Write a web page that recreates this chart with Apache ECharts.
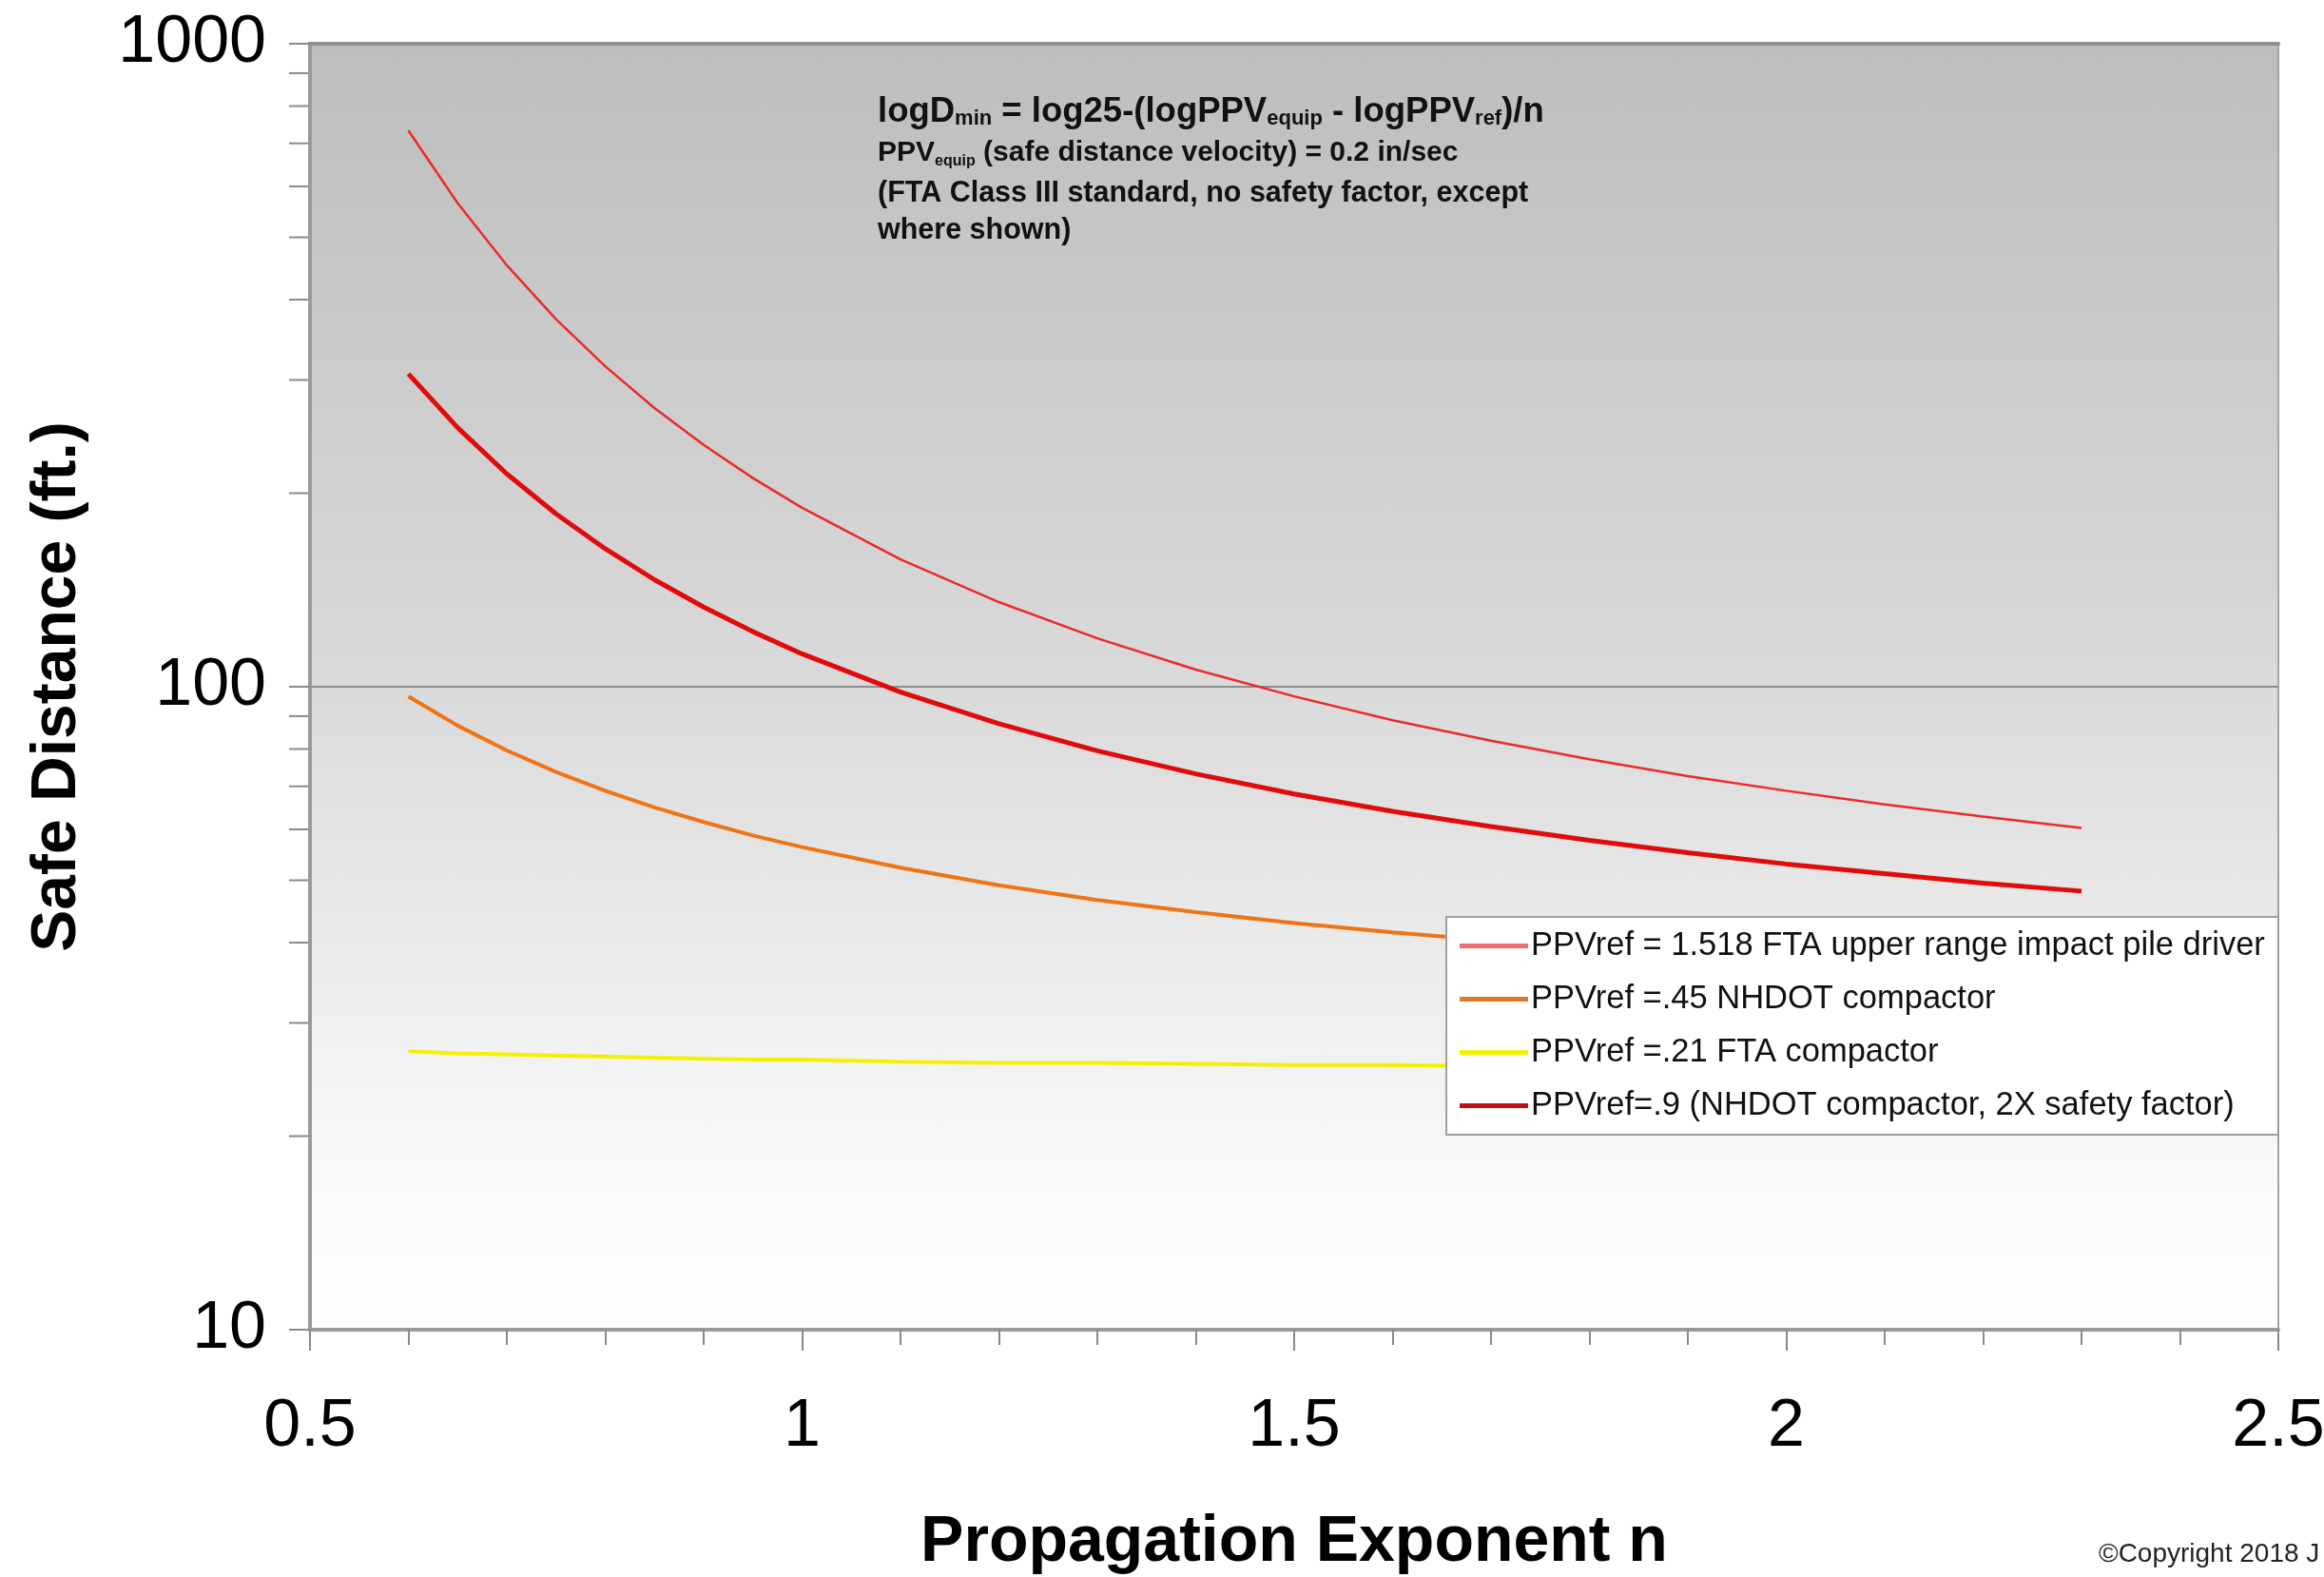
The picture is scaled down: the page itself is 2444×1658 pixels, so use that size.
<!DOCTYPE html>
<html>
<head>
<meta charset="utf-8">
<title>Safe Distance vs. Propagation Exponent</title>
<script src="https://cdn.jsdelivr.net/npm/echarts@6/dist/echarts.min.js"></script>
<style>
  html, body { margin: 0; padding: 0; background: #ffffff; }
  #chart { width: 2444px; height: 1658px; }
</style>
</head>
<body>
<div id="chart"></div>
<script>
// Propagation exponent n (x values shared by every curve)
const nValues = [0.6, 0.65, 0.7, 0.75, 0.8, 0.85, 0.9, 0.95, 1.0, 1.1, 1.2, 1.3, 1.4, 1.5, 1.6, 1.7, 1.8, 1.9, 2.0, 2.1, 2.2, 2.3];

// Safe distance (ft.) for each reference PPV
const pileDriver1518 = [732.8, 565.1, 452.3, 372.9, 315.0, 271.3, 237.7, 211.1, 189.8, 157.8, 135.4, 118.9, 106.3, 96.6, 88.7, 82.4, 77.1, 72.6, 68.9, 65.6, 62.8, 60.3];
const nhdotCompactor45 = [96.6, 87.0, 79.6, 73.7, 68.9, 64.9, 61.6, 58.7, 56.3, 52.3, 49.1, 46.6, 44.6, 42.9, 41.5, 40.3, 39.2, 38.3, 37.5, 36.8, 36.1, 35.6];
const ftaCompactor21 = [27.1, 26.9, 26.8, 26.7, 26.6, 26.5, 26.4, 26.3, 26.3, 26.1, 26.0, 26.0, 25.9, 25.8, 25.8, 25.7, 25.7, 25.7, 25.6, 25.6, 25.6, 25.5];
const nhdotSafety9 = [306.6, 252.9, 214.3, 185.7, 163.9, 146.7, 133.0, 121.8, 112.5, 98.1, 87.6, 79.5, 73.2, 68.1, 64.0, 60.6, 57.7, 55.2, 53.0, 51.2, 49.5, 48.1];

const seriesNames = [
  'PPVref = 1.518 FTA upper range impact pile driver',
  'PPVref =.45 NHDOT compactor',
  'PPVref =.21 FTA compactor',
  'PPVref=.9 (NHDOT compactor, 2X safety factor)'
];

// Logarithmic minor tick positions on the distance axis
const yMinorTicks = [20, 30, 40, 50, 60, 70, 80, 90, 200, 300, 400, 500, 600, 700, 800, 900];

const FONT = 'Liberation Sans, Arial, Helvetica, sans-serif';

function pairs(ys) {
  return nValues.map((n, i) => [n, ys[i]]);
}

const chart = echarts.init(document.getElementById('chart'), null, { renderer: 'canvas' });

const option = {
  animation: false,
  backgroundColor: '#ffffff',
  textStyle: { fontFamily: FONT },
  grid: {
    left: 326, right: 48, top: 46, bottom: 260,
    outerBoundsMode: 'none',
    containLabel: false,
    show: true,
    borderColor: '#a4a4a4',
    borderWidth: 2,
    backgroundColor: new echarts.graphic.LinearGradient(0, 0, 0, 1, [
      { offset: 0, color: '#bdbdbd' },
      { offset: 0.5, color: '#dadada' },
      { offset: 0.9, color: '#fbfbfb' },
      { offset: 1, color: '#ffffff' }
    ])
  },
  xAxis: [{
    type: 'value',
    min: 0.5, max: 2.5, interval: 0.5,
    name: 'Propagation Exponent n',
    nameLocation: 'middle',
    nameGap: 190,
    nameTextStyle: { fontSize: 68, fontWeight: 'bold', color: '#000', fontFamily: FONT },
    axisLine: { show: true, onZero: false, lineStyle: { color: '#9a9a9a', width: 4 } },
    axisTick: { show: true, length: 22, lineStyle: { color: '#8a8a8a', width: 2 } },
    minorTick: { show: true, splitNumber: 5, length: 16, lineStyle: { color: '#8a8a8a', width: 2 } },
    axisLabel: { fontSize: 70, color: '#000', margin: 68, fontFamily: FONT },
    splitLine: { show: false }
  }, {
    type: 'value',
    position: 'top',
    min: 0.5, max: 2.5,
    axisLine: { show: true, onZero: false, lineStyle: { color: '#8e8e8e', width: 4 } },
    axisTick: { show: false },
    axisLabel: { show: false },
    splitLine: { show: false }
  }],
  yAxis: {
    type: 'log',
    logBase: 10,
    min: 10, max: 1000,
    name: 'Safe Distance (ft.)',
    nameLocation: 'middle',
    nameGap: 232,
    nameTextStyle: { fontSize: 66, fontWeight: 'bold', color: '#000', fontFamily: FONT },
    axisLine: { show: true, lineStyle: { color: '#9a9a9a', width: 4 } },
    axisTick: { show: true, length: 22, lineStyle: { color: '#8a8a8a', width: 2 } },
    axisLabel: {
      fontSize: 70, color: '#000', margin: 46, fontFamily: FONT,
      formatter: v => String(Math.round(v))
    },
    splitLine: { show: true, lineStyle: { color: '#8c8c8c', width: 2 } }
  },
  legend: {
    orient: 'vertical',
    left: 1521,
    top: 964,
    data: seriesNames,
    selectedMode: false,
    icon: 'rect',
    backgroundColor: '#ffffff',
    borderColor: '#a0a0a0',
    borderWidth: 2,
    padding: [13, 14, 13, 14],
    itemWidth: 72,
    itemHeight: 5,
    itemGap: 21,
    textStyle: { fontSize: 34.5, color: '#111', fontFamily: FONT, padding: [0, 0, 0, -2] }
  },
  series: [
    {
      name: seriesNames[0], type: 'line', data: pairs(pileDriver1518),
      showSymbol: false, symbol: 'none', z: 3,
      lineStyle: { color: '#ec2a2a', width: 2.5 }, itemStyle: { color: '#f07070' }
    },
    {
      name: seriesNames[1], type: 'line', data: pairs(nhdotCompactor45),
      showSymbol: false, symbol: 'none', z: 3,
      lineStyle: { color: '#f07314', width: 4 }, itemStyle: { color: '#dd7a2a' }
    },
    {
      name: seriesNames[2], type: 'line', data: pairs(ftaCompactor21),
      showSymbol: false, symbol: 'none', z: 3,
      lineStyle: { color: '#f5f000', width: 4 }, itemStyle: { color: '#f5f000' }
    },
    {
      name: seriesNames[3], type: 'line', data: pairs(nhdotSafety9),
      showSymbol: false, symbol: 'none', z: 3,
      lineStyle: { color: '#e20a0a', width: 5 }, itemStyle: { color: '#c41010' }
    },
    {
      // short outward ticks at 20..90 and 200..900 on the log axis
      name: 'yMinorTicks',
      type: 'custom',
      coordinateSystem: 'cartesian2d',
      silent: true,
      clip: false,
      z: 4,
      data: yMinorTicks.map(v => [0.5, v]),
      renderItem: function (params, api) {
        const p = api.coord([api.value(0), api.value(1)]);
        return {
          type: 'line',
          shape: { x1: p[0] - 22, y1: p[1], x2: p[0] - 2, y2: p[1] },
          style: { stroke: '#8a8a8a', lineWidth: 2 }
        };
      }
    }
  ],
  graphic: [
    {
      type: 'text', left: 923, top: 99, z: 10,
      style: {
        text: '{m|logD}{s|min}{m| = log25-(logPPV}{s|equip}{m| - logPPV}{s|ref}{m|)/n}',
        rich: {
          m: { fontSize: 36.5, fontWeight: 'bold', fontFamily: FONT, fill: '#111' },
          s: { fontSize: 22, fontWeight: 'bold', fontFamily: FONT, fill: '#111', padding: [14, 0, 0, 0] }
        }
      }
    },
    {
      type: 'text', left: 923, top: 146, z: 10,
      style: {
        text: '{m|PPV}{s|equip}{m| (safe distance velocity) = 0.2 in/sec}',
        rich: {
          m: { fontSize: 30, fontWeight: 'bold', fontFamily: FONT, fill: '#111' },
          s: { fontSize: 16, fontWeight: 'bold', fontFamily: FONT, fill: '#111', padding: [18, 0, 0, 0] }
        }
      }
    },
    {
      type: 'text', left: 923, top: 188, z: 10,
      style: { text: '(FTA Class III standard, no safety factor, except', fontSize: 30.5, fontWeight: 'bold', fontFamily: FONT, fill: '#111' }
    },
    {
      type: 'text', left: 923, top: 227, z: 10,
      style: { text: 'where shown)', fontSize: 30.5, fontWeight: 'bold', fontFamily: FONT, fill: '#111' }
    },
    {
      type: 'text', left: 2207, top: 1620, z: 10,
      style: { text: '\u00A9Copyright 2018 J', fontSize: 28, fontFamily: FONT, fill: '#222' }
    }
  ]
};

chart.setOption(option);
</script>
</body>
</html>
